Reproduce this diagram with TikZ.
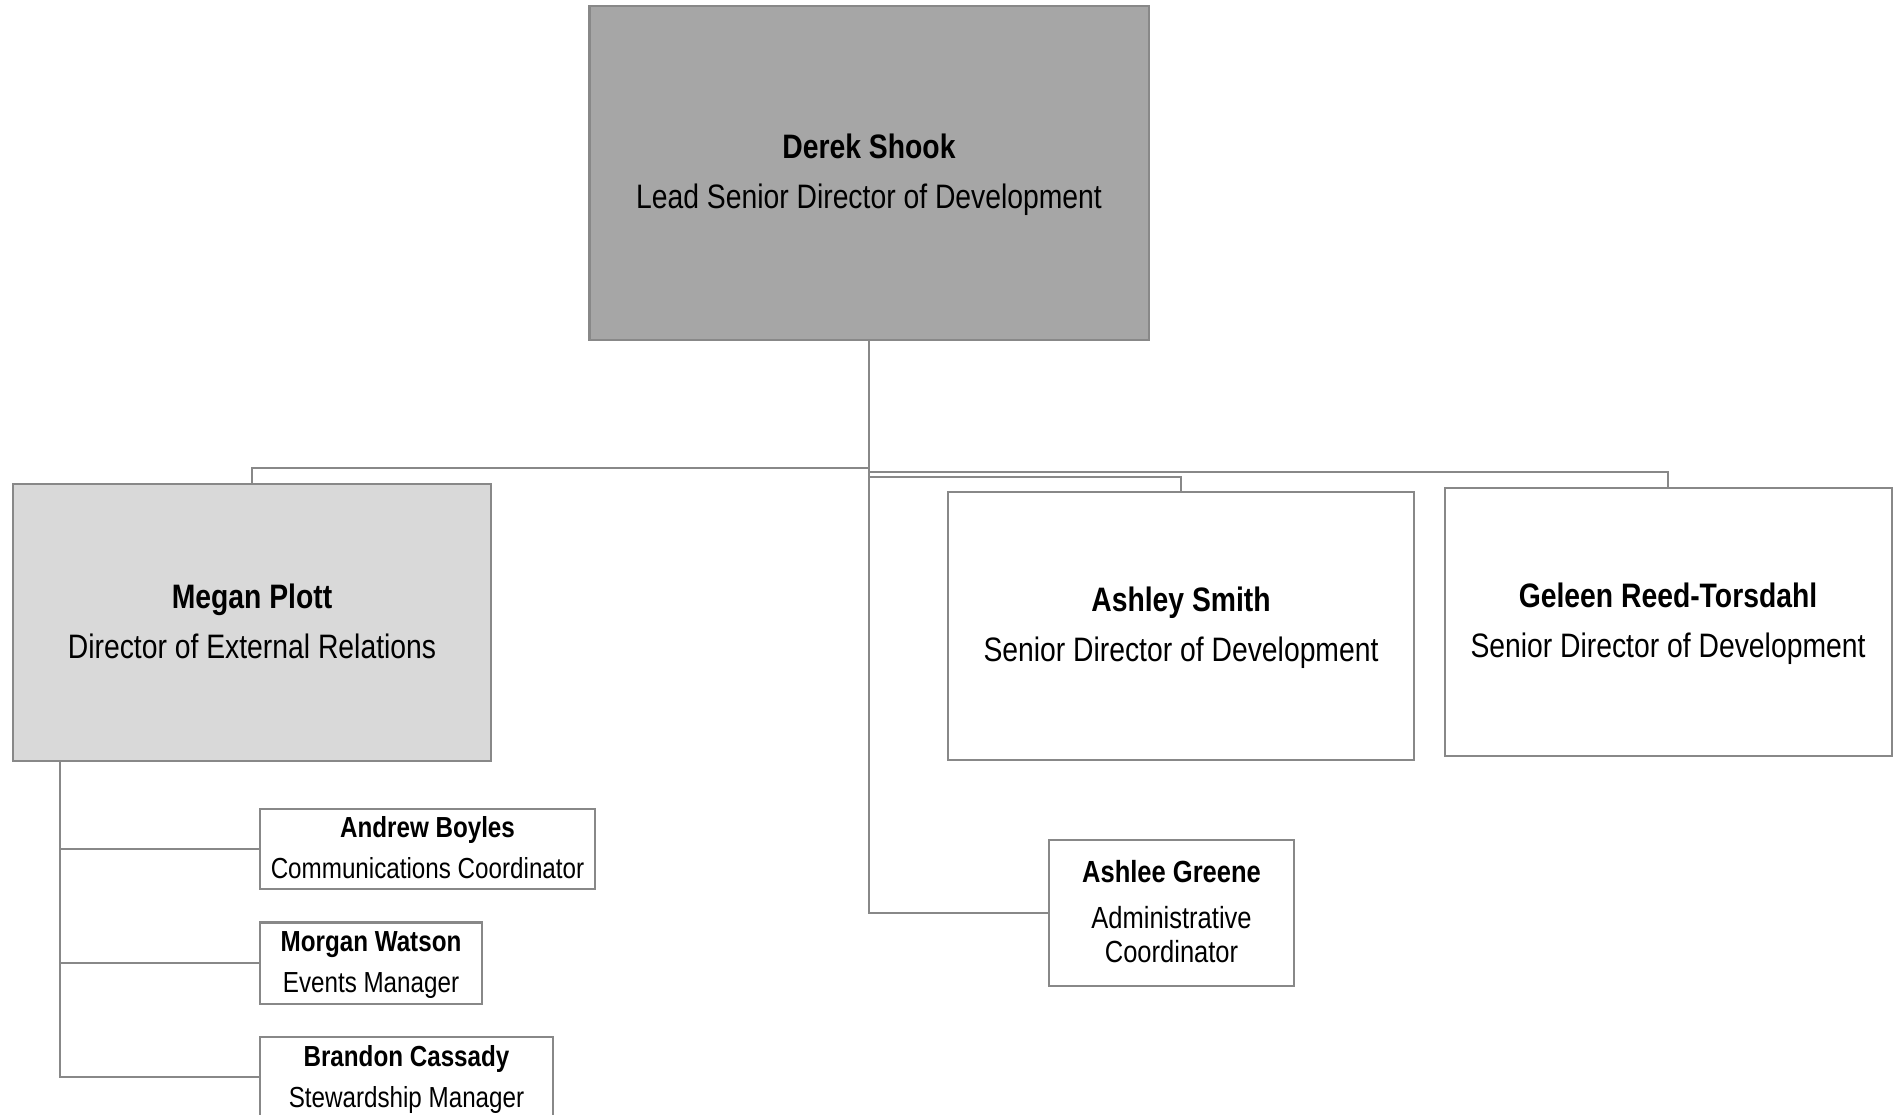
\documentclass[tikz,border=0pt]{standalone}
\usepackage{fontspec}
\setmainfont{Liberation Sans}[FakeStretch=0.835]
\usetikzlibrary{calc}
\definecolor{linegray}{HTML}{888888}
\definecolor{headfill}{HTML}{A6A6A6}
\definecolor{subfill}{HTML}{D9D9D9}
\tikzset{
    box/.style 2 args={draw=linegray, line width=1.15pt, minimum width=#1*0.02cm, minimum height=#2*0.02cm, inner sep=0pt},
    link/.style={draw=linegray, line width=1.15pt},
    bigtext/.style={anchor=base, align=center, inner sep=0pt, font=\fontsize{19.3}{28.45}\selectfont},
    smalltext/.style={anchor=base, align=center, inner sep=0pt, font=\fontsize{16.5}{23.3}\selectfont}
}
\begin{document}
\begin{tikzpicture}[x=0.02cm,y=-0.02cm]
\useasboundingbox (0,0) rectangle (1893,1115);
\node[box={559}{334}, fill=headfill] (derek) at (869,173) {};
\node[box={478}{277}, fill=subfill] (megan) at (252,622.5) {};
\node[box={466}{268}] (ashley) at (1181,626) {};
\node[box={447}{268}] (geleen) at (1668,622) {};
\node[box={245}{146}] (ashlee) at (1171.5,913) {};
\node[box={335}{80}] (andrew) at (427.5,849) {};
\node[box={222}{81}] (morgan) at (371,963) {};
\node[box={293}{80}] (brandon) at (406.5,1077) {};
\coordinate (mp) at ($(megan.south west)+(48,0)$);
\draw[link] (derek.south) |- (ashlee.west);
\draw[link] (derek.south) -- ++(0,127) -| (megan.north);
\draw[link] (derek.south) ++(0,131) -| (geleen.north);
\draw[link] (derek.south) ++(0,136) -| (ashley.north);
\foreach \n in {andrew,morgan,brandon}
    \draw[link] (mp) |- (\n.west);
\node[bigtext] (derek-t) at (869,208) {\textbf{Derek Shook}\\Lead Senior Director of Development};
\node[bigtext] (megan-t) at (252,658) {\textbf{Megan Plott}\\Director of External Relations};
\node[bigtext] (ashley-t) at (1181,661) {\textbf{Ashley Smith}\\Senior Director of Development};
\node[bigtext] (geleen-t) at (1668,657) {\textbf{Geleen Reed-Torsdahl}\\Senior Director of Development};
\node[smalltext] (andrew-t) at (427.5,878) {\textbf{Andrew Boyles}\\Communications Coordinator};
\node[smalltext] (morgan-t) at (371,992) {\textbf{Morgan Watson}\\Events Manager};
\node[smalltext] (brandon-t) at (406.5,1107) {\textbf{Brandon Cassady}\\Stewardship Manager};
\node[smalltext, font=\fontsize{17.4}{18.8}\selectfont] (ashlee-t) at (1171.5,962) {\textbf{Ashlee Greene}\\[7.4pt]Administrative\\Coordinator};
\end{tikzpicture}
\end{document}
